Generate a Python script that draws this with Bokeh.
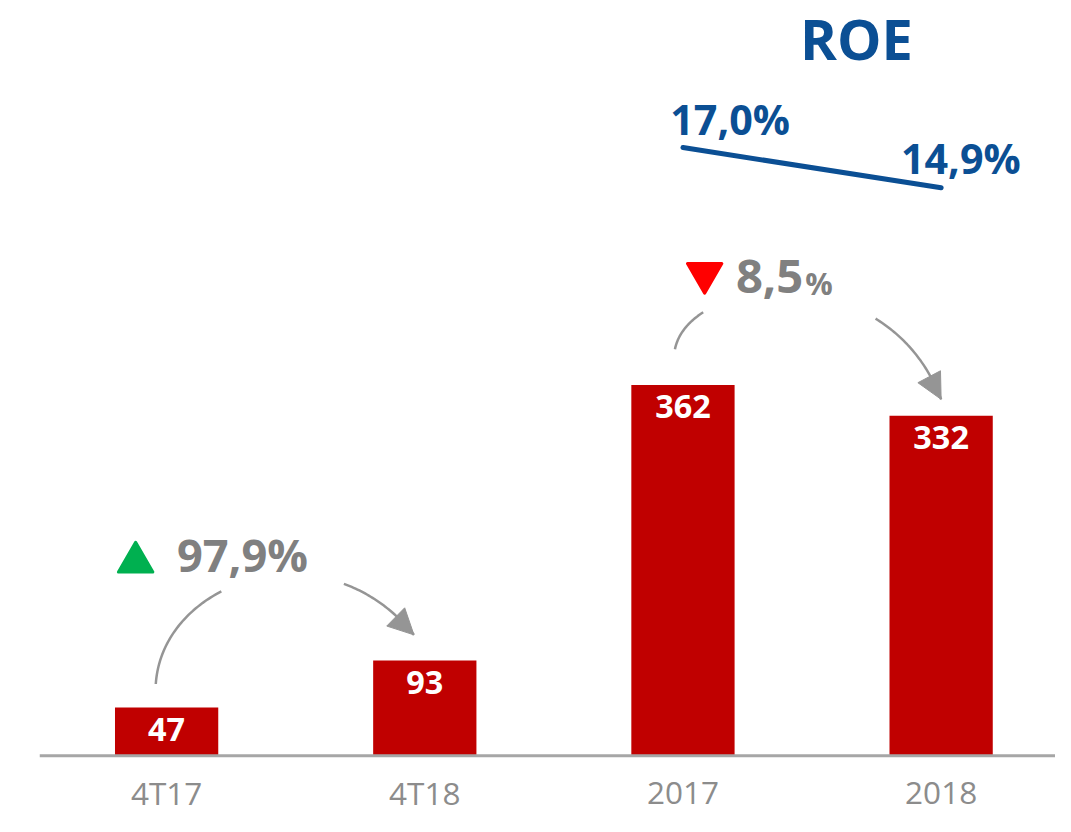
import numpy as np
from bokeh.plotting import figure
from bokeh.models import Range1d, Span, Arrow, NormalHead, ColumnDataSource
from bokeh.core.properties import value
from bokeh.embed import file_html
from bokeh.resources import INLINE

# ---------------- data ----------------
categories = ["4T17", "4T18", "2017", "2018"]
profit = [47, 93, 362, 332]
roe_years = ["2017", "2018"]
roe_values = [17.0, 14.9]
roe_labels = ["17,0%", "14,9%"]
change_q_label = "97,9%"     # 4T17 -> 4T18 (up)
change_y_label = "8,5"       # 2017 -> 2018 (down)

# ---------------- style ----------------
BAR = "#C00000"
BLUE = "#0B4F94"
GREY_TXT = "#808080"
AXIS_TXT = "#8C8C8C"
ARROW_C = "#959595"
FONT = value("Open Sans")
S = 0.983          # pixel scale (page fits 1055x816)
K = 0.39           # baseline correction (em)


def fs(px):
    return f"{px * S:.1f}px"


def yoff(px_down, size):
    return px_down * S - K * size * S


xs = list(range(len(categories)))

p = figure(width=1055, height=816,
           x_range=Range1d(-0.4924, 3.443), y_range=Range1d(-59.4, 737.5),
           output_backend="svg", toolbar_location=None,
           min_border_left=39, min_border_right=0, min_border_top=0, min_border_bottom=0)
p.axis.visible = False
p.grid.visible = False
p.outline_line_color = None
p.background_fill_color = "white"
p.extra_y_ranges = {"roe": Range1d(-17.94, 24.68)}

# bars
src = ColumnDataSource(dict(x=xs, top=profit, base=[0] * len(xs),
                            lab=[str(v) for v in profit], cat=categories))
p.vbar(x="x", top="top", width=0.4, bottom=0, source=src, fill_color=BAR, line_color=None)
p.text(x="x", y="top", text="lab", source=src, text_align="center", text_baseline="alphabetic",
       y_offset=yoff(35, 33), text_color="white", text_font=FONT, text_font_style="bold",
       text_font_size=fs(33))

# baseline + category labels
p.add_layout(Span(location=0, dimension="width", line_color="#A6A6A6", line_width=3))
p.text(x="x", y="base", text="cat", source=src, text_align="center", text_baseline="alphabetic",
       y_offset=yoff(50, 32), text_color=AXIS_TXT, text_font=FONT, text_font_size=fs(32))

# ROE
roe_x = [xs[categories.index(c)] for c in roe_years]
p.line(x=roe_x, y=roe_values, y_range_name="roe", line_color=BLUE, line_width=5, line_cap="round")
p.text(x=[roe_x[0]], y=[roe_values[0]], text=[roe_labels[0]], y_range_name="roe",
       x_offset=-13 * S, y_offset=yoff(-13, 42), text_align="left", text_baseline="alphabetic",
       text_color=BLUE, text_font=FONT, text_font_style="bold", text_font_size=fs(42))
p.text(x=[roe_x[1]], y=[roe_values[1]], text=[roe_labels[1]], y_range_name="roe",
       x_offset=20 * S, y_offset=yoff(-14, 42), text_align="center", text_baseline="alphabetic",
       text_color=BLUE, text_font=FONT, text_font_style="bold", text_font_size=fs(42))
p.text(x=[2.672], y=[685], text=["ROE"], y_offset=yoff(6, 57), text_align="center",
       text_baseline="alphabetic", text_color=BLUE, text_font=FONT, text_font_style="bold",
       text_font_size=fs(57))

# change indicators
p.scatter(x=[xs[0] - 0.12], y=[189], marker="triangle", size=35 * S, fill_color="#00B050",
          line_color="#00B050", line_width=3, line_join="round")
p.text(x=[xs[0] + 0.04], y=[179], text=[change_q_label], y_offset=yoff(0, 46), text_align="left",
       text_baseline="alphabetic", text_color=GREY_TXT, text_font=FONT, text_font_style="bold",
       text_font_size=fs(46))

p.scatter(x=[xs[2] + 0.084], y=[471], marker="inverted_triangle", size=35 * S, fill_color="#FF0000",
          line_color="#FF0000", line_width=3, line_join="round")
p.text(x=[xs[2] + 0.205], y=[450], text=[change_y_label], y_offset=yoff(0, 48), text_align="left",
       text_baseline="alphabetic", text_color=GREY_TXT, text_font=FONT, text_font_style="bold",
       text_font_size=fs(48))
p.text(x=[xs[2] + 0.474], y=[450], text=["%"], y_offset=yoff(0, 31), text_align="left",
       text_baseline="alphabetic", text_color=GREY_TXT, text_font=FONT, text_font_style="bold",
       text_font_size=fs(31))


def bez(P, t):
    t = np.asarray(t)[:, None]
    P = np.asarray(P, dtype=float)
    pts = ((1 - t) ** 3) * P[0] + 3 * t * (1 - t) ** 2 * P[1] + 3 * t ** 2 * (1 - t) * P[2] + t ** 3 * P[3]
    return pts[:, 0], pts[:, 1]


def curved_arrow(P, gap):
    for a, b in [(0.0, gap[0]), (gap[1], 1.0)]:
        bx, by = bez(P, np.linspace(a, b, 40))
        p.line(bx, by, line_color=ARROW_C, line_width=2.5)
    sx, sy = bez(P, [0.9])
    p.add_layout(Arrow(end=NormalHead(size=26 * S, fill_color=ARROW_C, line_color=ARROW_C, line_width=1),
                       x_start=sx[0], y_start=sy[0], x_end=P[3][0], y_end=P[3][1],
                       line_alpha=0, line_width=0))


# 4T17 -> 4T18
v0, v1 = profit[0], profit[1]
curved_arrow([(xs[0] - 0.042, v0 + 23), (xs[0] - 0.015, v0 + 125),
              (xs[1] - 0.385, v1 + 132), (xs[1] - 0.042, v1 + 25)], (0.39, 0.77))
# 2017 -> 2018
v2, v3 = profit[2], profit[3]
curved_arrow([(xs[2] - 0.031, v2 + 35), (xs[2] + 0.027, v2 + 107),
              (xs[3] - 0.21, v3 + 156), (xs[3], v3 + 16)], (0.2, 0.74))

open("out.html", "w").write(file_html(p, INLINE))
